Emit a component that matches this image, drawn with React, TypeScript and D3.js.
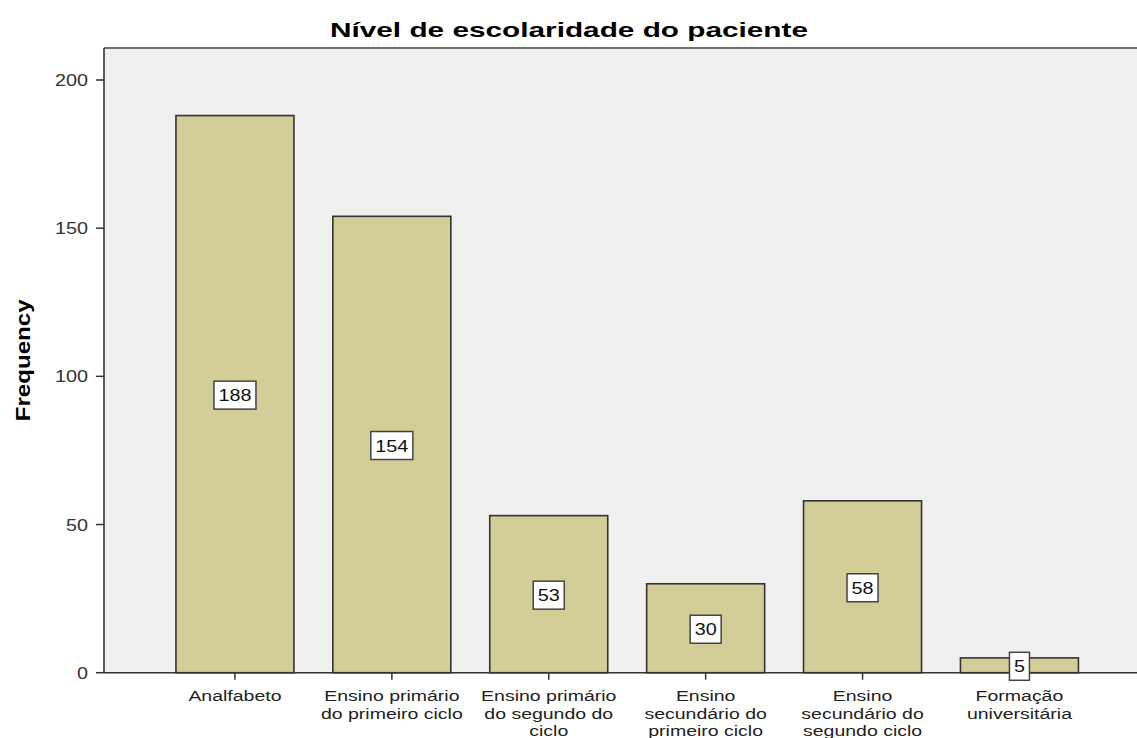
import React from "react";
import * as d3 from "d3";

const categories: string[][] = [
  ["Analfabeto"],
  ["Ensino primário", "do primeiro ciclo"],
  ["Ensino primário", "do segundo do", "ciclo"],
  ["Ensino", "secundário do", "primeiro ciclo"],
  ["Ensino", "secundário do", "segundo ciclo"],
  ["Formação", "universitária"],
];
const frequencies: number[] = [188, 154, 53, 30, 58, 5];
const yTicks: number[] = [0, 50, 100, 150, 200];
const title = "Nível de escolaridade do paciente";
const yLabel = "Frequency";

const W = 1137;
const H = 738;
const FONT = "'Liberation Sans', Arial, sans-serif";
const SX = 1.2;

export default function App() {
  const keys = categories.map((_, i) => String(i));
  const x = d3
    .scaleBand<string>()
    .domain(keys)
    .range([156.5, 156.5 + 6 * 156.9])
    .paddingInner(0.248)
    .paddingOuter(0.124);
  const y = d3.scaleLinear().domain([0, 200]).range([672.7, 80]);
  const y0 = y(0);
  const plotTop = 48;
  const plotLeft = 104;

  return (
    <svg
      width={W}
      height={H}
      style={{ position: "absolute", left: 0, top: 0, background: "#fff" }}
    >
      <rect x={plotLeft} y={plotTop} width={W - plotLeft} height={y0 - plotTop} fill="#f0f0f0" />
      <line x1={plotLeft} x2={W} y1={plotTop} y2={plotTop} stroke="#707070" strokeWidth={2} />

      {/* title */}
      <text
        x={569}
        y={37}
        textAnchor="middle"
        fontFamily={FONT}
        fontWeight="bold"
        fontSize={21}
        fill="#000"
        textLength={478}
        lengthAdjust="spacingAndGlyphs"
      >
        {title}
      </text>

      {/* y label */}
      <text
        transform={`translate(30,${(plotTop + y0) / 2}) rotate(-90)`}
        textAnchor="middle"
        fontFamily={FONT}
        fontWeight="bold"
        fontSize={20}
        fill="#000"
        textLength={122}
        lengthAdjust="spacingAndGlyphs"
      >
        {yLabel}
      </text>

      {/* bars */}
      {frequencies.map((v, i) => (
        <rect
          key={"b" + i}
          x={x(String(i))!}
          y={y(v)}
          width={x.bandwidth()}
          height={y0 - y(v)}
          fill="#d3ce97"
          stroke="#333"
          strokeWidth={1.6}
        />
      ))}

      {/* axes */}
      <line x1={plotLeft} x2={plotLeft} y1={plotTop} y2={y0} stroke="#333" strokeWidth={1.6} />
      <line x1={plotLeft} x2={W} y1={y0} y2={y0} stroke="#333" strokeWidth={1.6} />

      {yTicks.map((t) => (
        <g key={"yt" + t}>
          <line x1={96} x2={plotLeft} y1={y(t)} y2={y(t)} stroke="#333" strokeWidth={1.5} />
          <text
            transform={`translate(88,${y(t) + 6}) scale(${SX},1)`}
            textAnchor="end"
            fontFamily={FONT}
            fontSize={16.5}
            fill="#333"
          >
            {t}
          </text>
        </g>
      ))}

      {categories.map((lines, i) => {
        const cx = x(String(i))! + x.bandwidth() / 2;
        return (
          <g key={"xt" + i}>
            <line x1={cx} x2={cx} y1={y0} y2={y0 + 7} stroke="#333" strokeWidth={1.5} />
            {lines.map((ln, j) => (
              <text
                key={j}
                transform={`translate(${cx},${701 + j * 17.5}) scale(1.3,1)`}
                textAnchor="middle"
                fontFamily={FONT}
                fontSize={15}
                fill="#222"
              >
                {ln}
              </text>
            ))}
          </g>
        );
      })}

      {/* data labels */}
      {frequencies.map((v, i) => {
        const cx = x(String(i))! + x.bandwidth() / 2;
        const cy = (y(v) + y0) / 2 + 1;
        const s = String(v);
        const w = s.length * 16.5 * 0.556 * SX + 9;
        const h = 28;
        return (
          <g key={"dl" + i}>
            <rect
              x={cx - w / 2}
              y={cy - h / 2}
              width={w}
              height={h}
              fill="#fff"
              stroke="#444"
              strokeWidth={1.5}
            />
            <text
              transform={`translate(${cx},${cy + 6}) scale(${SX},1)`}
              textAnchor="middle"
              fontFamily={FONT}
              fontSize={16.5}
              fill="#111"
            >
              {s}
            </text>
          </g>
        );
      })}
    </svg>
  );
}
